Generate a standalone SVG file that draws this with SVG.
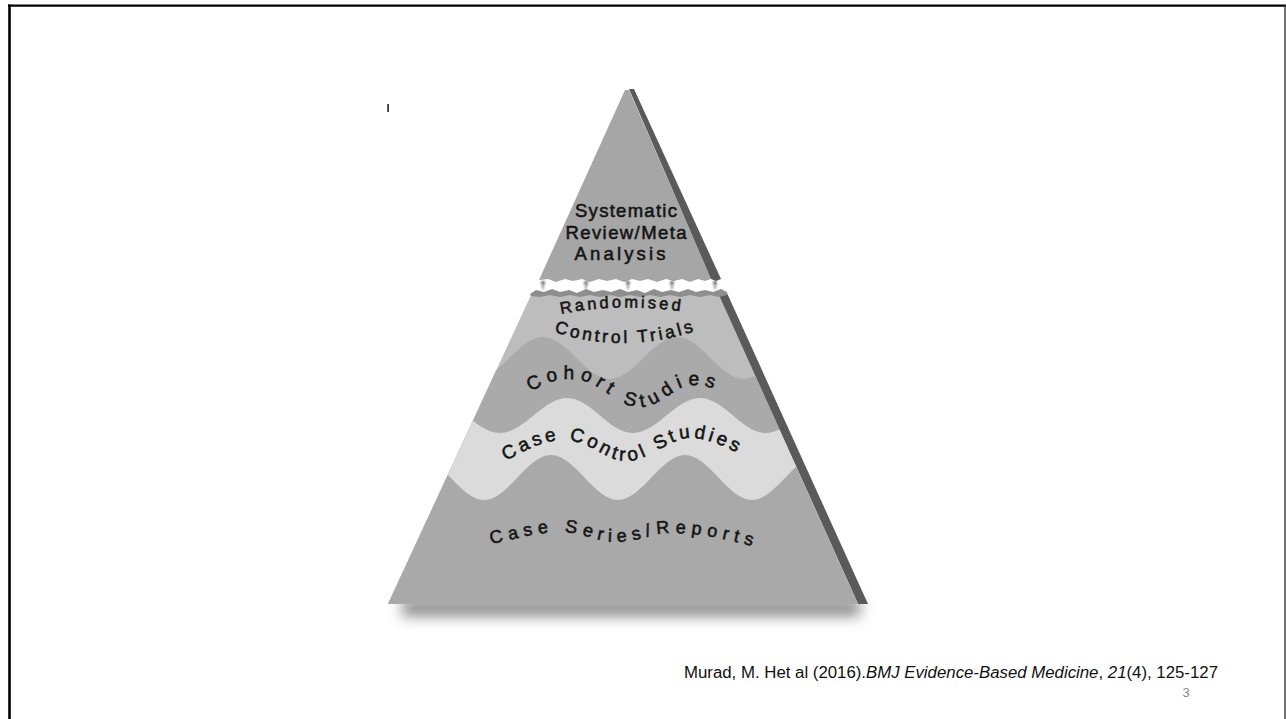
<svg xmlns="http://www.w3.org/2000/svg" width="1286" height="719" viewBox="0 0 1286 719">
<style>
.lbl{font-family:"Liberation Sans",Arial,Helvetica,sans-serif;fill:#141414;stroke:#141414;stroke-width:0.55}
.cite{font-family:"Liberation Sans",Arial,sans-serif;font-size:16px;fill:#111}
.face-top{fill:#a6a6a6}
.edge{fill:#5a5a5a}
.rct{fill:#bdbdbd}
.cohort{fill:#aaaaaa}
.cc{fill:#dbdbdb}
.cs{fill:#a9a9a9}
.tear{stroke:#222;stroke-width:1;fill:none}
</style>
<defs>
<clipPath id="lowerClip"><polygon points="532,293 718,293 858,604 388,604"/></clipPath>
<filter id="blur6" x="-20%" y="-200%" width="140%" height="500%"><feGaussianBlur stdDeviation="7"/></filter>
<filter id="blur1" x="-10%" y="-100%" width="120%" height="300%"><feGaussianBlur stdDeviation="0.8"/></filter>
<path id="pRand" d="M561,314 Q629,300 710,316"/>
<path id="pCtrl" d="M554,332 Q622,354 692,332 L730,321"/>
<path id="pCoh" d="M531,392 C545,382 558,379 571,379 C600,379 615,407 640,407 C662,407 675,385 692,385 C706,385 716,389 730,395 L745,402"/>
<path id="pCC" d="M506,461 C525,450 545,440 563,440 C590,440 605,461 626,461 C650,461 670,438 690,438 C712,438 735,452 752,460 L765,468"/>
<path id="pCS" d="M491,544 C520,538 540,532 560,532 C585,532 595,542 615,542 C640,542 652,533 672,533 C705,533 735,542 760,548 L775,552"/>
</defs>
<rect width="1286" height="719" fill="#ffffff"/>
<g id="frame">
<line x1="9.5" y1="4.5" x2="9.5" y2="719" stroke="#000" stroke-width="2.6"/>
<line x1="8" y1="5.7" x2="1286" y2="5.7" stroke="#000" stroke-width="2.2"/>
<line x1="1285" y1="5" x2="1285" y2="719" stroke="#333" stroke-width="1.4"/>
</g>
<rect x="387.3" y="104" width="1.6" height="8" fill="#222"/>
<g id="shadow">
<rect x="402" y="600" width="458" height="16" fill="#555" opacity="0.7" filter="url(#blur6)"/>
</g>
<g id="node-systematic-review">
<path class="face-top" d="M625,90 L629,90 L711,279 L705,281 L698,279 L690,282 L682,279 L674,281 L666,279 L657,282 L648,279 L640,281 L632,279 L624,282 L616,279 L607,281 L599,279 L590,282 L582,279 L573,281 L565,279 L556,282 L548,279 L539,280 Z"/>
<path class="edge" d="M629,89 L634,89 L721,279 L716,281 L711,279 Z"/>
<text class="lbl" font-size="18.5" text-anchor="middle" x="626" y="217" textLength="102" lengthAdjust="spacing">Systematic</text>
<text class="lbl" font-size="18.5" text-anchor="middle" x="626" y="239" textLength="121" lengthAdjust="spacing">Review/Meta</text>
<text class="lbl" font-size="18.5" text-anchor="middle" x="620" y="260" textLength="91" lengthAdjust="spacing">Analysis</text>
</g>
<g id="connectors">
<g class="tear" filter="url(#blur1)">
<path d="M543,289 V282 M541,284 L543,281 L545,284"/>
<path d="M586,289 V282 M584,284 L586,281 L588,284"/>
<path d="M628,289 V282 M626,284 L628,281 L630,284"/>
<path d="M672,289 V282 M670,284 L672,281 L674,284"/>
<path d="M715,289 V282 M713,284 L715,281 L717,284"/>
</g>
</g>
<g id="lower-body">
<polygon class="rct" points="532,293 718,293 858,604 388,604"/>
<path class="edge" d="M718,293 L727,293 L868,604 L858,604 Z"/>
<path fill="#8e8e8e" d="M530,294 L536,290 L544,292 L552,289 L560,292 L569,290 L577,293 L586,289 L594,292 L603,290 L611,292 L620,289 L628,292 L637,290 L645,293 L654,289 L662,292 L671,290 L679,292 L688,289 L696,292 L705,290 L713,292 L721,289 L727,292 L727,295 L719,297 L710,295 L700,297 L690,295 L680,297 L670,295 L660,297 L650,295 L640,297 L630,295 L620,297 L610,295 L600,297 L590,295 L580,297 L570,295 L560,297 L550,295 L540,297 L531,296 Z"/>
</g>
<g id="node-cohort">
<path class="cohort" clip-path="url(#lowerClip)" d="M409,337 C433,337 452,379 476,379 C500,379 519,337 543,337 C567,337 586,379 610,379 C634,379 653,337 677,337 C701,337 720,379 744,379 C768,379 787,337 811,337 L900,337 L900,620 L380,620 L380,337 Z"/>
</g>
<g id="node-case-control">
<path class="cc" clip-path="url(#lowerClip)" d="M433,398 C457,398 476,433 500,433 C524,433 543,398 567,398 C591,398 609,433 633,433 C657,433 676,398 700,398 C724,398 742,433 766,433 C790,433 809,398 833,398 L900,398 L900,620 L380,620 L380,398 Z"/>
</g>
<g id="node-case-series">
<path class="cs" clip-path="url(#lowerClip)" d="M417,455 C441,455 460,500 484,500 C508,500 527,455 551,455 C575,455 594,500 618,500 C642,500 661,455 685,455 C709,455 728,500 752,500 C776,500 795,455 819,455 L900,455 L900,620 L380,620 L380,455 Z"/>
<text class="lbl" font-size="18" letter-spacing="5.5"><textPath href="#pCS">Case Series/Reports</textPath></text>
</g>
<g id="node-rct">
<text class="lbl" font-size="16.5" letter-spacing="3"><textPath href="#pRand">Randomised</textPath></text>
<text class="lbl" font-size="17.5" letter-spacing="3"><textPath href="#pCtrl">Control Trials</textPath></text>
</g>
<g id="labels-mid">
<text class="lbl" font-size="19" letter-spacing="5.5"><textPath href="#pCoh">Cohort Studies</textPath></text>
<text class="lbl" font-size="19" letter-spacing="3.5"><textPath href="#pCC">Case Control Studies</textPath></text>
</g>
<g id="citation">
<text class="cite" x="684" y="678" textLength="534" lengthAdjust="spacingAndGlyphs">Murad, M. Het al (2016).<tspan font-style="italic">BMJ Evidence-Based Medicine</tspan>, <tspan font-style="italic">21</tspan>(4), 125-127</text>
<text x="1186" y="697" text-anchor="middle" font-family="Liberation Sans, Arial, sans-serif" font-size="13" fill="#888">3</text>
</g>
</svg>
